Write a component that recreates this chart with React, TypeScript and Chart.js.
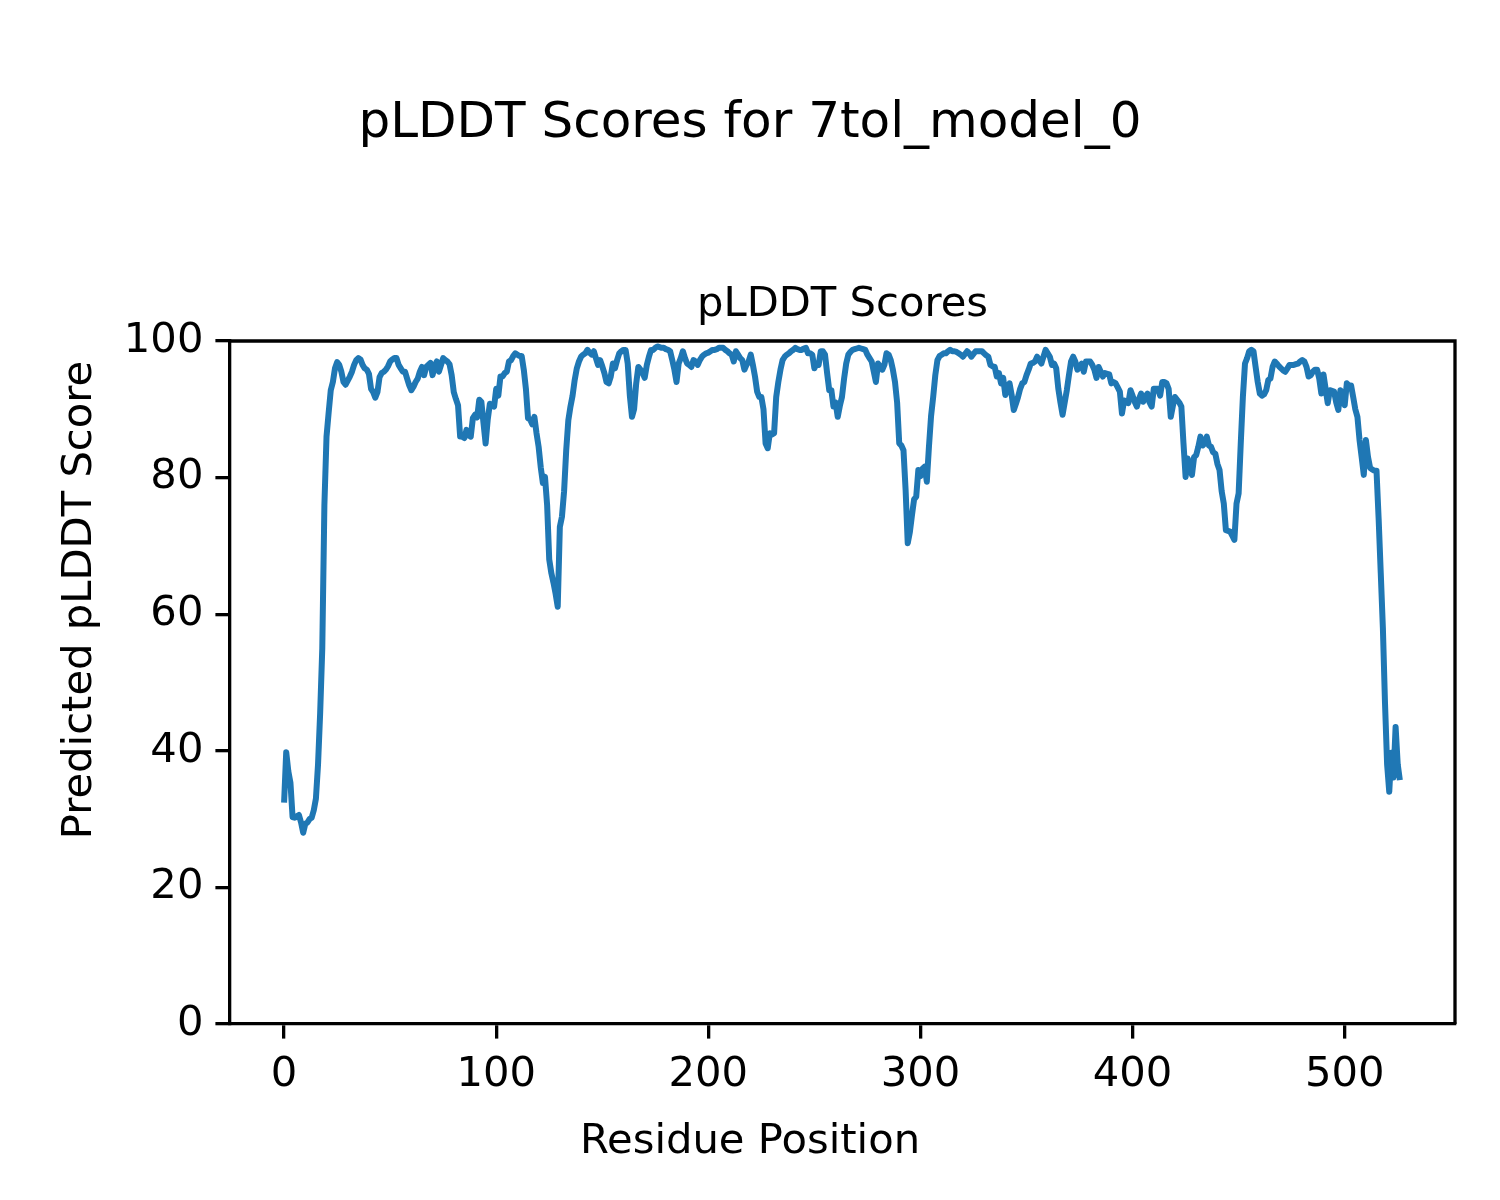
import React, { useEffect, useRef } from "react";
import { Chart, registerables } from "chart.js";

Chart.register(...registerables);

const SUPTITLE = "pLDDT Scores for 7tol_model_0";
const AXES_TITLE = "pLDDT Scores";
const X_LABEL = "Residue Position";
const Y_LABEL = "Predicted pLDDT Score";

const X_TICKS = [0, 100, 200, 300, 400, 500];
const Y_TICKS = [0, 20, 40, 60, 80, 100];

// pLDDT per residue (residue 0 .. 526)
const PLDDT = [
  32.4, 39.8, 37, 35.3, 30.3, 30.2, 30.4, 30.6, 29.5, 28,
  29.3, 29.5, 30, 30.2, 31.3, 33, 38, 45.5, 55, 76,
  86, 89.5, 92.8, 94, 96, 96.9, 96.5, 95.5, 94, 93.6,
  94.2, 94.8, 95.5, 96.5, 97.2, 97.5, 97.3, 96.5, 96, 95.8,
  95.2, 93, 92.5, 91.7, 92.5, 94.7, 95.3, 95.5, 95.8, 96.3,
  97, 97.3, 97.5, 97.5, 96.5, 96, 95.5, 95.5, 94.5, 93.5,
  92.8, 93.3, 94, 94.5, 95.5, 96.2, 95, 96.2, 96.5, 96.8,
  95, 96.3, 97, 95.5, 96.5, 97.5, 97.2, 97, 96.6, 95,
  92.5, 91.5, 90.6, 86, 86, 85.8, 87, 86.2, 86, 88.7,
  89.2, 88.8, 91.4, 91.1, 88, 85, 88.5, 90.8, 90.5, 90.4,
  93, 92, 94.8, 94.8, 95.3, 95.5, 97, 97.2, 97.8, 98.2,
  98, 97.8, 97.8, 95.8, 93, 88.7, 88.5, 87.8, 88.9, 86.5,
  84.5, 81.5, 79.2, 80.1, 76, 68, 66, 64.6, 63, 61.1,
  72.8, 74.3, 78, 84, 88.4, 90.4, 92, 94.3, 96, 97,
  97.7, 98, 98.2, 98.7, 98.3, 98, 98.5, 97.5, 96.5, 97.2,
  96.3, 95.3, 94, 93.8, 94.8, 96.7, 96, 97.2, 98.2, 98.5,
  98.7, 98.7, 96.7, 92, 88.9, 90, 93.8, 96.2, 95.8, 95.3,
  94.6, 96.5, 97.7, 98.7, 98.7, 99, 99.2, 99.1, 99, 99,
  98.8, 98.7, 98.5, 97.2, 95.8, 94, 96.7, 97.5, 98.5, 97.5,
  96.7, 96.5, 96.2, 97.2, 97, 96.5, 97.2, 97.7, 98, 98.2,
  98.3, 98.5, 98.7, 98.7, 98.8, 99, 99, 99, 98.7, 98.5,
  98.2, 98, 97, 98.5, 98, 97.5, 97.2, 95.8, 96.5, 97,
  98, 96.5, 94.8, 92.6, 91.8, 91.8, 90, 85, 84.3, 86.5,
  86.3, 86.5, 91.8, 94, 95.8, 97.2, 97.7, 98, 98.2, 98.5,
  98.7, 99, 98.8, 98.7, 98.7, 98.9, 99, 98.2, 98.2, 98,
  96, 96.7, 96.5, 98.5, 98.5, 98, 95.3, 92.8, 92.8, 90.4,
  91, 88.9, 90.5, 91.8, 94.5, 96.7, 98, 98.4, 98.7, 98.8,
  98.9, 99, 98.9, 98.8, 98.7, 98, 97.5, 97, 95.5, 94,
  96.7, 96.3, 95.8, 96.5, 98.2, 98, 97.2, 95.8, 94, 91,
  85, 84.7, 84, 78.2, 70.4, 72, 74.5, 76.8, 77.2, 81.1,
  80.2, 81.3, 81.6, 79.4, 84.5, 89, 91.8, 95, 97.2, 97.8,
  98, 98.2, 98.2, 98.5, 98.7, 98.5, 98.5, 98.4, 98.2, 98,
  97.7, 98.1, 98.5, 98.2, 97.7, 98.1, 98.5, 98.5, 98.5, 98.5,
  98.2, 97.9, 97.7, 96.5, 96.3, 96.2, 94.8, 95.3, 93.8, 94.6,
  92.1, 93, 93.8, 92.1, 89.9, 90.8, 91.8, 93, 93.8, 94,
  95, 95.8, 96.7, 96.8, 97, 97.7, 97.2, 96.7, 97.7, 98.7,
  98.2, 97.7, 96.5, 96.7, 96, 93, 91, 89.2, 91, 92.8,
  95, 97, 97.7, 97, 95.8, 96.2, 96.7, 95.5, 97, 97,
  97, 96.5, 95.8, 94.6, 96.2, 95.5, 94.8, 95.3, 95.2, 95.1,
  93.8, 94, 93.8, 93.2, 92.6, 89.4, 91.3, 91, 90.9, 92.8,
  92, 91.1, 90.4, 91.5, 92.3, 91.1, 91.8, 92.3, 91, 90.4,
  93, 93, 93, 92, 94, 94, 93.8, 93, 88.9, 90.5,
  91.8, 91.4, 91, 90.4, 85, 80.1, 82.8, 81.5, 80.4, 83,
  83.3, 84.5, 86, 84.7, 85, 86, 84.7, 84.5, 83.7, 83.5,
  82, 81.1, 78, 76.2, 72.3, 72.2, 72.1, 71.5, 70.9, 76.2,
  77.7, 85, 91.8, 96.7, 97.5, 98.5, 98.7, 98.5, 96.2, 94,
  92.3, 92, 92.2, 92.8, 94.3, 94.5, 96.2, 97, 96.7, 96.3,
  96, 95.7, 95.5, 96, 96.5, 96.5, 96.5, 96.6, 96.7, 97,
  97.2, 97, 96.2, 94.8, 95, 95.5, 95.8, 95.8, 94.5, 92.3,
  95.1, 93, 90.9, 92.8, 92.7, 92.6, 91, 89.9, 92.8, 91.5,
  90.6, 93.8, 93.5, 93.5, 91.8, 90, 88.9, 85.5, 83, 80.4,
  85.5, 83, 81.4, 81.2, 81, 81, 74, 66, 58, 47,
  38, 34, 39.7, 36.1, 43.5, 38, 35.7,
];

const FONT = "'DejaVu Sans', sans-serif";

const textPlugin = {
  id: "figureTexts",
  afterDraw(chart: any) {
    const ctx = chart.ctx as CanvasRenderingContext2D;
    const a = chart.chartArea;
    ctx.save();
    // top and right spines
    ctx.strokeStyle = "#000";
    ctx.lineWidth = 3.3;
    ctx.beginPath();
    ctx.moveTo(a.left, a.top);
    ctx.lineTo(a.right, a.top);
    ctx.lineTo(a.right, a.bottom);
    ctx.stroke();

    ctx.fillStyle = "#000";
    ctx.textAlign = "center";
    ctx.textBaseline = "alphabetic";
    ctx.font = `50px ${FONT}`;
    ctx.fillText(SUPTITLE, 750, 137);
    ctx.font = `41.7px ${FONT}`;
    ctx.fillText(AXES_TITLE, (a.left + a.right) / 2, 316);
    ctx.fillText(X_LABEL, 750, 1153);
    ctx.translate(91, 600);
    ctx.rotate(-Math.PI / 2);
    ctx.fillText(Y_LABEL, 0, 0);
    ctx.restore();
  },
};

export default function App() {
  const ref = useRef<HTMLCanvasElement | null>(null);

  useEffect(() => {
    if (!ref.current) return;
    const points = PLDDT.map((v, i) => ({ x: i, y: v }));
    const chart = new Chart(ref.current, {
      type: "line",
      data: {
        datasets: [
          {
            data: points,
            borderColor: "#1f77b4",
            borderWidth: 6,
            pointRadius: 0,
            tension: 0,
            borderJoinStyle: "round",
            fill: false,
          },
        ],
      },
      options: {
        responsive: false,
        animation: false,
        layout: { padding: { top: 341, left: 0, right: 45, bottom: 0 } },
        plugins: {
          legend: { display: false },
          title: { display: false },
          tooltip: { enabled: false },
        },
        scales: {
          x: {
            type: "linear",
            min: -25.5,
            max: 552,
            afterBuildTicks: (scale: any) => {
              scale.ticks = X_TICKS.map((v) => ({ value: v }));
            },
            afterFit: (scale: any) => {
              scale.height = 176;
            },
            grid: {
              display: true,
              drawOnChartArea: false,
              drawTicks: true,
              tickLength: 14.6,
              tickColor: "#000",
              tickWidth: 3.3,
              color: "#000",
              lineWidth: 3.3,
            },
            border: { display: true, color: "#000", width: 3.3 },
            ticks: {
              color: "#000",
              font: { family: FONT, size: 41.7 },
              padding: 12,
              maxRotation: 0,
              autoSkip: false,
            },
          },
          y: {
            type: "linear",
            min: 0,
            max: 100,
            afterBuildTicks: (scale: any) => {
              scale.ticks = Y_TICKS.map((v) => ({ value: v }));
            },
            afterFit: (scale: any) => {
              scale.width = 230;
            },
            grid: {
              display: true,
              drawOnChartArea: false,
              drawTicks: true,
              tickLength: 14.6,
              tickColor: "#000",
              tickWidth: 3.3,
              color: "#000",
              lineWidth: 3.3,
            },
            border: { display: true, color: "#000", width: 3.3 },
            ticks: {
              color: "#000",
              font: { family: FONT, size: 41.7 },
              padding: 12,
              autoSkip: false,
            },
          },
        },
      },
      plugins: [textPlugin],
    } as any);
    return () => chart.destroy();
  }, []);

  return (
    <div style={{ position: "absolute", left: 0, top: 0, width: 1500, height: 1200, background: "#fff" }}>
      <canvas ref={ref} width={1500} height={1200} style={{ width: 1500, height: 1200 }} />
    </div>
  );
}
